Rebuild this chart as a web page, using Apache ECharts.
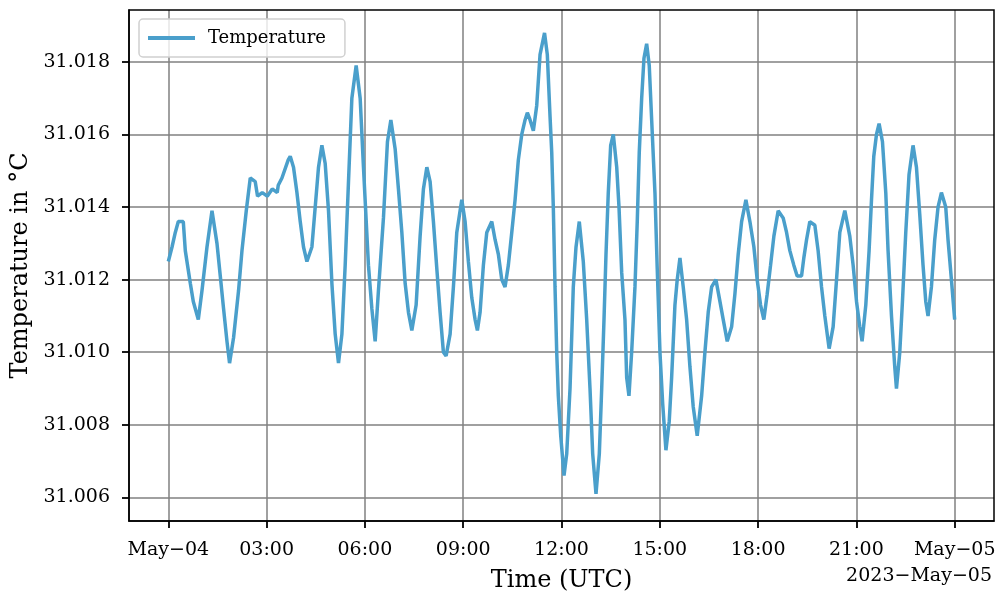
<!DOCTYPE html>
<html>
<head>
<meta charset="utf-8">
<script src="https://cdn.jsdelivr.net/npm/echarts@6/dist/echarts.min.js"></script>
<style>
  html, body { margin: 0; padding: 0; background: #ffffff; }
  #chart { width: 998px; height: 594px; }
</style>
</head>
<body>
<div id="chart"></div>
<script>
// Hours since 2023-05-04 00:00 UTC
const hours = [
  0.000, 0.113, 0.213, 0.305, 0.457, 0.518, 0.671, 0.762, 0.915, 1.028,
  1.180, 1.333, 1.485, 1.586, 1.686, 1.790, 1.869, 1.991, 2.144, 2.248,
  2.379, 2.501, 2.653, 2.723, 2.867, 3.019, 3.172, 3.324, 3.355, 3.468,
  3.660, 3.721, 3.821, 3.925, 4.026, 4.126, 4.230, 4.382, 4.483, 4.584,
  4.687, 4.788, 4.889, 4.992, 5.093, 5.194, 5.298, 5.398, 5.499, 5.602,
  5.733, 5.855, 5.956, 6.108, 6.212, 6.313, 6.413, 6.566, 6.688, 6.792,
  6.923, 7.023, 7.127, 7.228, 7.329, 7.432, 7.563, 7.685, 7.786, 7.890,
  7.990, 8.091, 8.195, 8.295, 8.396, 8.478, 8.600, 8.701, 8.804, 8.905,
  8.957, 9.058, 9.158, 9.262, 9.363, 9.433, 9.515, 9.616, 9.719, 9.872,
  9.973, 10.073, 10.177, 10.277, 10.378, 10.482, 10.583, 10.683, 10.787, 10.888,
  10.958, 11.040, 11.141, 11.244, 11.345, 11.482, 11.567, 11.650, 11.702, 11.750,
  11.802, 11.854, 11.903, 11.976, 12.077, 12.159, 12.260, 12.311, 12.360, 12.443,
  12.543, 12.665, 12.769, 12.870, 12.952, 13.053, 13.154, 13.227, 13.297, 13.358,
  13.428, 13.501, 13.581, 13.685, 13.755, 13.837, 13.937, 13.989, 14.059, 14.141,
  14.242, 14.312, 14.373, 14.447, 14.517, 14.599, 14.678, 14.752, 14.852, 14.922,
  15.005, 15.087, 15.187, 15.288, 15.361, 15.462, 15.532, 15.615, 15.715, 15.819,
  15.920, 16.020, 16.142, 16.277, 16.377, 16.478, 16.582, 16.713, 16.835, 16.936,
  17.058, 17.192, 17.292, 17.393, 17.497, 17.628, 17.750, 17.872, 17.972, 18.076,
  18.176, 18.277, 18.381, 18.482, 18.613, 18.765, 18.869, 18.969, 19.091, 19.192,
  19.326, 19.396, 19.479, 19.579, 19.732, 19.832, 19.936, 20.037, 20.168, 20.290,
  20.394, 20.494, 20.647, 20.799, 20.900, 21.004, 21.104, 21.174, 21.287, 21.388,
  21.461, 21.531, 21.613, 21.693, 21.796, 21.897, 21.967, 22.071, 22.171, 22.223,
  22.324, 22.406, 22.507, 22.607, 22.729, 22.833, 22.934, 23.034, 23.117, 23.187,
  23.290, 23.391, 23.492, 23.595, 23.727, 23.797, 23.900, 24.000
];

// Temperature in °C
const temps = [
  31.0125, 31.0129, 31.0133, 31.0136, 31.0136, 31.0128, 31.0119, 31.0114, 31.0109, 31.0117,
  31.0129, 31.0139, 31.0130, 31.0121, 31.0112, 31.0103, 31.0097, 31.0104, 31.0117, 31.0128,
  31.0139, 31.0148, 31.0147, 31.0143, 31.0144, 31.0143, 31.0145, 31.0144, 31.0146, 31.0148,
  31.0153, 31.0154, 31.0151, 31.0144, 31.0136, 31.0129, 31.0125, 31.0129, 31.0140, 31.0151,
  31.0157, 31.0152, 31.0139, 31.0119, 31.0105, 31.0097, 31.0105, 31.0124, 31.0147, 31.0170,
  31.0179, 31.0170, 31.0151, 31.0124, 31.0112, 31.0103, 31.0117, 31.0137, 31.0158, 31.0164,
  31.0156, 31.0145, 31.0133, 31.0119, 31.0111, 31.0106, 31.0113, 31.0132, 31.0145, 31.0151,
  31.0147, 31.0136, 31.0123, 31.0111, 31.0100, 31.0099, 31.0105, 31.0118, 31.0133, 31.0139,
  31.0142, 31.0136, 31.0125, 31.0115, 31.0109, 31.0106, 31.0111, 31.0124, 31.0133, 31.0136,
  31.0131, 31.0127, 31.0120, 31.0118, 31.0124, 31.0133, 31.0142, 31.0153, 31.0160, 31.0164,
  31.0166, 31.0164, 31.0161, 31.0168, 31.0182, 31.0188, 31.0182, 31.0165, 31.0155, 31.0140,
  31.0118, 31.0100, 31.0088, 31.0077, 31.0066, 31.0072, 31.0090, 31.0104, 31.0118, 31.0129,
  31.0136, 31.0125, 31.0109, 31.0090, 31.0072, 31.0061, 31.0072, 31.0090, 31.0109, 31.0127,
  31.0144, 31.0157, 31.0160, 31.0151, 31.0140, 31.0122, 31.0109, 31.0093, 31.0088, 31.0100,
  31.0118, 31.0136, 31.0155, 31.0170, 31.0181, 31.0185, 31.0179, 31.0164, 31.0144, 31.0123,
  31.0100, 31.0086, 31.0073, 31.0081, 31.0093, 31.0113, 31.0120, 31.0126, 31.0118, 31.0109,
  31.0096, 31.0085, 31.0077, 31.0088, 31.0100, 31.0111, 31.0118, 31.0120, 31.0114, 31.0109,
  31.0103, 31.0107, 31.0116, 31.0127, 31.0136, 31.0142, 31.0136, 31.0129, 31.0120, 31.0113,
  31.0109, 31.0116, 31.0124, 31.0132, 31.0139, 31.0137, 31.0133, 31.0128, 31.0124, 31.0121,
  31.0121, 31.0126, 31.0131, 31.0136, 31.0135, 31.0128, 31.0118, 31.0110, 31.0101, 31.0107,
  31.0120, 31.0133, 31.0139, 31.0132, 31.0124, 31.0114, 31.0107, 31.0103, 31.0113, 31.0128,
  31.0142, 31.0154, 31.0160, 31.0163, 31.0158, 31.0144, 31.0128, 31.0110, 31.0096, 31.0090,
  31.0100, 31.0114, 31.0133, 31.0149, 31.0157, 31.0151, 31.0138, 31.0124, 31.0114, 31.0110,
  31.0118, 31.0131, 31.0140, 31.0144, 31.0140, 31.0131, 31.0120, 31.0109
];

const yTicks = [31.006, 31.008, 31.010, 31.012, 31.014, 31.016, 31.018];
const xTickHours = [0, 3, 6, 9, 12, 15, 18, 21, 24];
const xTickLabels = ['May\u221204', '03:00', '06:00', '09:00', '12:00', '15:00', '18:00', '21:00', 'May\u221205'];

const FONT = '"DejaVu Serif", serif';
const GRID_COLOR = '#808080';

const chart = echarts.init(document.getElementById('chart'), null, { renderer: 'canvas' });

chart.setOption({
  animation: false,
  backgroundColor: '#ffffff',
  grid: {
    left: 129, right: 4, top: 10, bottom: 73,
    outerBoundsMode: 'none',
    show: true, borderColor: '#000000', borderWidth: 1.5, z: 10
  },
  legend: {
    left: 139, top: 19,
    padding: [10, 19, 10, 9],
    backgroundColor: 'rgba(255,255,255,0.8)',
    borderColor: '#d0d0d0', borderWidth: 1.5, borderRadius: 4,
    itemWidth: 47, itemHeight: 4, itemGap: 10,
    icon: 'rect',
    textStyle: { fontFamily: FONT, fontSize: 18, color: '#000', padding: [0, 0, 0, 8] },
    data: ['Temperature']
  },
  xAxis: {
    type: 'value',
    min: -1.2, max: 25.2,
    name: 'Time (UTC)', nameLocation: 'middle', nameGap: 48,
    nameTextStyle: { fontFamily: FONT, fontSize: 24, color: '#000' },
    axisLine: { show: true, onZero: false, lineStyle: { color: '#000', width: 1.5 } },
    axisTick: { show: true, inside: false, length: 7, lineStyle: { color: '#000', width: 1.8 }, customValues: xTickHours },
    axisLabel: {
      fontFamily: FONT, fontSize: 19, color: '#000', margin: 20,
      customValues: xTickHours,
      formatter: v => xTickLabels[xTickHours.indexOf(Math.round(v))] || ''
    },
    splitLine: { show: true, lineStyle: { color: GRID_COLOR, width: 1.5 } }
  },
  yAxis: {
    type: 'value',
    min: 31.00535, max: 31.01943,
    name: 'Temperature in \u00B0C', nameLocation: 'middle', nameGap: 95, nameRotate: 90,
    nameTextStyle: { fontFamily: FONT, fontSize: 24, color: '#000' },
    axisLine: { show: true, onZero: false, lineStyle: { color: '#000', width: 1.5 } },
    axisTick: { show: true, inside: false, length: 7, lineStyle: { color: '#000', width: 1.8 }, customValues: yTicks },
    axisLabel: {
      fontFamily: FONT, fontSize: 19, color: '#000', margin: 19,
      customValues: yTicks,
      formatter: v => v.toFixed(3)
    },
    splitLine: { show: true, lineStyle: { color: GRID_COLOR, width: 1.5 } }
  },
  graphic: [{
    type: 'text', right: 6, top: 567,
    style: { text: '2023\u2212May\u221205', font: '19px ' + FONT, fill: '#000' }
  }],
  series: [{
    name: 'Temperature',
    type: 'line',
    data: hours.map((h, i) => [h, temps[i]]),
    showSymbol: false,
    symbol: 'none',
    lineStyle: { color: '#4a9fcb', width: 3.5, opacity: 1 },
    itemStyle: { color: '#4a9fcb' },
    z: 5
  }]
});
</script>
</body>
</html>
